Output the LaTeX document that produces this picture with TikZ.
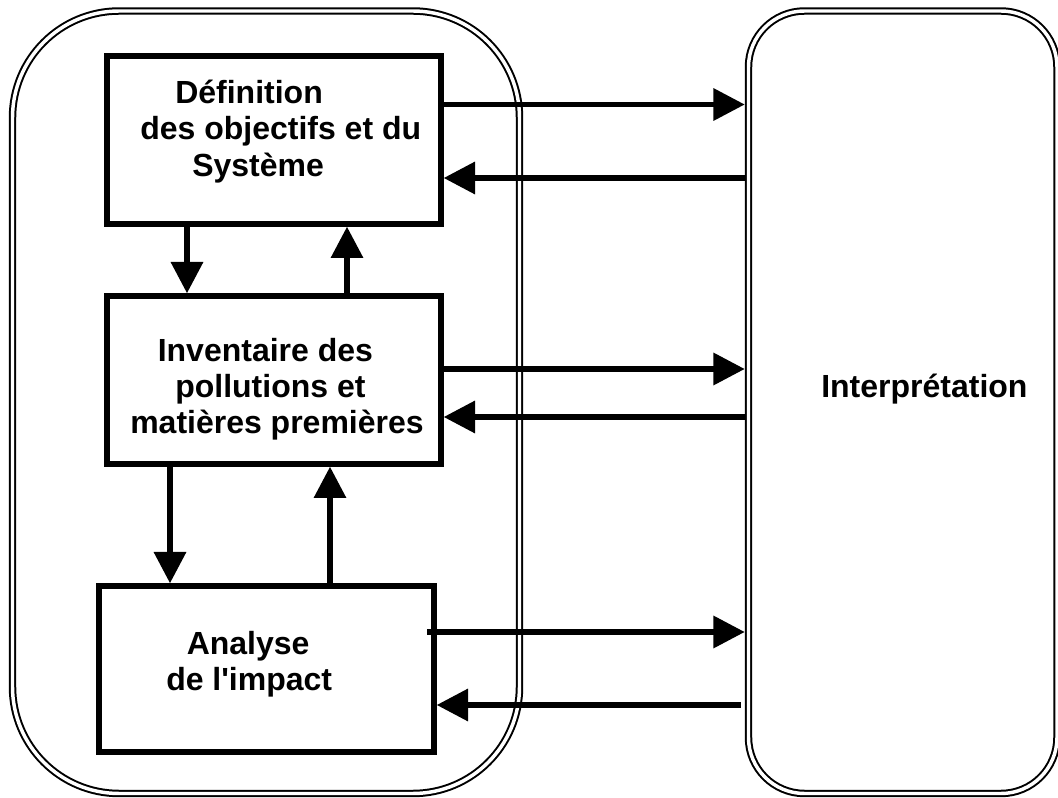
\documentclass[tikz,border=0pt]{standalone}
\usepackage{fontspec}
\setmainfont{Liberation Sans}
\usetikzlibrary{arrows.meta,calc}

\tikzset{
  frame/.style={draw, double, line width=1.5pt, double distance=2.6pt,
    inner sep=0pt, outer sep=2.8pt},
  stage/.style={draw, line width=4pt, inner sep=0pt, outer sep=auto,
    minimum width=250.5pt, minimum height=126pt},
  flow/.style={line width=4.3pt, -{Triangle[length=23.5pt,width=23.5pt]}},
  txt/.style={anchor=base west, inner sep=0pt,
    font=\fontsize{24}{27.5}\selectfont\bfseries},
}

\begin{document}
\begin{tikzpicture}[x=0.75pt,y=-0.75pt]
\useasboundingbox (0,0) rectangle (1058,798);
\clip (0,0) rectangle (1058,798);

% the two rounded frames
\node[frame, rounded corners=80pt, minimum width=380.25pt, minimum height=586.875pt]
  (study) at (266,402.25) {};
\node[frame, rounded corners=42pt, minimum width=231.375pt, minimum height=586.875pt]
  (interp) at (902.75,402.25) {};

% the three stages
\node[stage] (def) at (274,140) {};
\node[stage] (inv) at (274,380) {};
\node[stage, minimum width=251.25pt, minimum height=124.5pt] (ana) at (266.5,669) {};

% labels
\node[txt] (defA) at (175,103.3) {Définition};
\node[txt] (defB) at (140,140) {des objectifs et du};
\node[txt] (defC) at (192,176.7) {Système};
\node[txt] (invA) at (157.5,361.7) {Inventaire des};
\node[txt] (invB) at (175,397.8) {pollutions et};
\node[txt] (invC) at (130,434) {matières premières};
\node[txt] (anaA) at (186.5,655) {Analyse};
\node[txt] (anaB) at (166,691) {de l\textquotesingle impact};
\node[txt] (intA) at (821,398) {Interprétation};

% vertical links between the stages
\coordinate (d1) at ($(def.south)+(-87,0)$);
\coordinate (u1) at ($(def.south)+(73,0)$);
\draw[flow] (d1) -- (d1 |- inv.north);
\draw[flow] (inv.north -| u1) -- (u1);
\coordinate (d2) at ($(inv.south)+(-104,0)$);
\coordinate (u2) at ($(inv.south)+(56,0)$);
\draw[flow] (d2) -- (d2 |- ana.north);
\draw[flow] (ana.north -| u2) -- (u2);

% links with the interpretation
\coordinate (r1) at ($(def.east)+(0,-35.5)$);
\coordinate (l1) at ($(def.east)+(0,38)$);
\draw[flow] (r1) -- (r1 -| interp.west);
\draw[flow] (l1 -| interp.west) -- (l1);
\coordinate (r2) at ($(inv.east)+(0,-11)$);
\coordinate (l2) at ($(inv.east)+(0,37)$);
\draw[flow] (r2) -- (r2 -| interp.west);
\draw[flow] (l2 -| interp.west) -- (l2);
\coordinate (r3) at ($(ana.east)+(-9.5,-37)$);
\coordinate (l3) at ($(ana.east)+(0,36)$);
\coordinate (s3) at ($(l3 -| interp.west)+(-4,0)$);
\draw[flow] (r3) -- (r3 -| interp.west);
\draw[flow] (s3) -- (l3);
\end{tikzpicture}
\end{document}
